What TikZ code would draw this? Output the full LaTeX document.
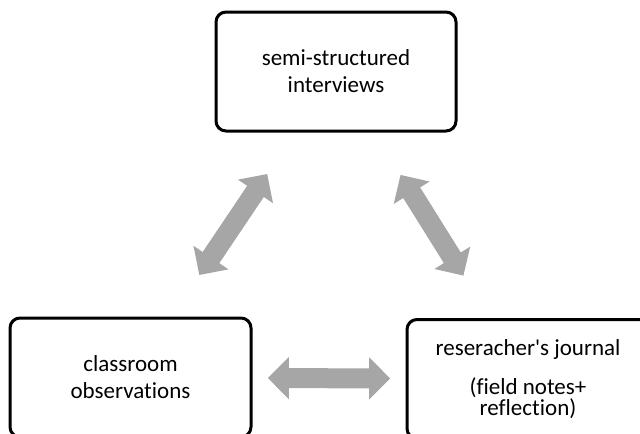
\documentclass[tikz,border=0pt]{standalone}
\usepackage{fontspec}
\setmainfont{Carlito}[Ligatures=NoCommon]
\usetikzlibrary{arrows.meta}
\definecolor{linkgray}{RGB}{166,166,166}

\begin{document}
\begin{tikzpicture}[x=0.75pt,y=-0.75pt,
	box/.style={draw,line width=2.25pt,rounded corners=7.5pt,minimum height=89.25pt,align=center,font={\fontsize{17.25}{20.25}\selectfont}},
	link/.style={linkgray,line width=15pt,{Triangle[width=30.75pt,length=15.75pt]}-{Triangle[width=30.75pt,length=15.75pt]}}]

\useasboundingbox (0,0) rectangle (640,433);

\node[box,minimum width=180pt] (interviews) at (336,71.5) {semi-structured\\interviews};
\node[box,minimum width=180.75pt] (classroom) at (130.5,377.5) {classroom\\observations};
\node[box,minimum width=181.5pt,font={\fontsize{17.25}{15.5}\selectfont\lineskiplimit=-20pt}] (journal) at (528,379) {reseracher\textquotesingle s journal\\[14pt](field notes+\\reflection)};

\draw[link,shorten <=37.5pt,shorten >=37.5pt] (interviews) -- (classroom);
\draw[link,shorten <=37.5pt,shorten >=37.5pt] (interviews) -- (journal);
\draw[link,shorten <=11.5pt,shorten >=11.5pt] (classroom) -- (journal);

\end{tikzpicture}
\end{document}
